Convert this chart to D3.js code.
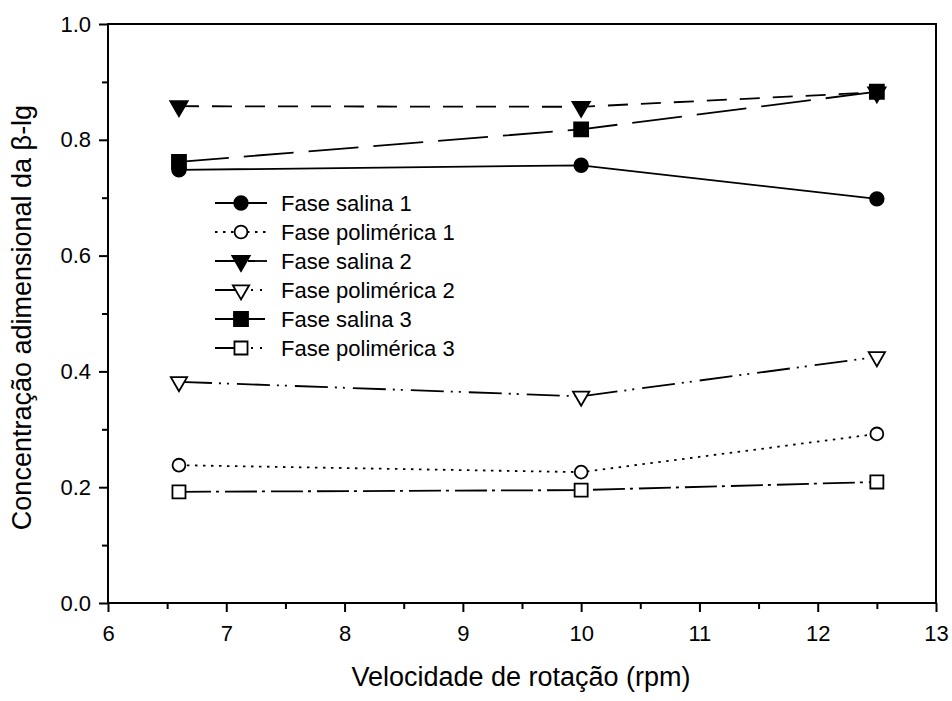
<!DOCTYPE html>
<html>
<head>
<meta charset="utf-8">
<script src="https://cdn.jsdelivr.net/npm/d3@7"></script>
<style>
  html, body { margin: 0; padding: 0; background: #fff; }
  svg { display: block; font-family: Arial, "Liberation Sans", sans-serif; }
</style>
</head>
<body>
<svg id="chart" width="952" height="701"></svg>
<script>
// ---- data ----
const rpm = [6.6, 10, 12.5];
const salina1 = [0.748, 0.756, 0.698];
const polimerica1 = [0.238, 0.226, 0.292];
const salina2 = [0.858, 0.857, 0.882];
const polimerica2 = [0.382, 0.357, 0.425];
const salina3 = [0.762, 0.818, 0.883];
const polimerica3 = [0.192, 0.195, 0.209];
const seriesNames = ["Fase salina 1", "Fase polimérica 1", "Fase salina 2",
                     "Fase polimérica 2", "Fase salina 3", "Fase polimérica 3"];
const xTicks = [6, 7, 8, 9, 10, 11, 12, 13];
const yTicks = [0.0, 0.2, 0.4, 0.6, 0.8, 1.0];
const xTitle = "Velocidade de rotação (rpm)";
const yTitle = "Concentração adimensional da β-lg";

// ---- styling ----
const styles = [
  { sym: d3.symbolCircle, size: 145, fill: "#000", rot: 0, dash: null, legendDash: null },
  { sym: d3.symbolCircle, size: 130, fill: "#fff", rot: 0, dash: "2.5,5.5", legendDash: "2.5,5.5" },
  { sym: d3.symbolTriangle, size: 130, fill: "#000", rot: 180, dash: "20,13", legendDash: "20,13" },
  { sym: d3.symbolTriangle, size: 115, fill: "#fff", rot: 180, dash: "33,7,2,6,2,8", legendDash: "20,16,2,7,2,30" },
  { sym: d3.symbolSquare, size: 196, fill: "#000", rot: 0, dash: "50,15", legendDash: "50,15" },
  { sym: d3.symbolSquare, size: 170, fill: "#fff", rot: 0, dash: "32,5,3,6", legendDash: "20,16,2,7,2,30" }
];
const allSeries = [salina1, polimerica1, salina2, polimerica2, salina3, polimerica3];

const svg = d3.select("#chart");
const L = 108, R = 936, T = 24, B = 603;
const x = d3.scaleLinear().domain([6, 13]).range([L, R]);
const y = d3.scaleLinear().domain([0, 1]).range([B, T]);

// frame
svg.append("rect").attr("x", L).attr("y", T).attr("width", R - L).attr("height", B - T)
  .attr("fill", "none").attr("stroke", "#000").attr("stroke-width", 2);

// minor ticks
const xMinor = d3.range(6.5, 13, 1);
const yMinor = d3.range(0.1, 1.0, 0.2);
svg.append("g").attr("transform", `translate(0,${B})`)
  .call(d3.axisBottom(x).tickValues(xMinor).tickSize(6).tickFormat(""))
  .call(g => g.select(".domain").remove())
  .call(g => g.selectAll("line").attr("stroke-width", 2));
svg.append("g").attr("transform", `translate(${L},0)`)
  .call(d3.axisLeft(y).tickValues(yMinor).tickSize(6).tickFormat(""))
  .call(g => g.select(".domain").remove())
  .call(g => g.selectAll("line").attr("stroke-width", 2));

// major axes
const xAxis = svg.append("g").attr("transform", `translate(0,${B})`)
  .call(d3.axisBottom(x).tickValues(xTicks).tickSize(9).tickPadding(13).tickFormat(d3.format("d")));
xAxis.select(".domain").remove();
xAxis.selectAll("line").attr("stroke-width", 2);
xAxis.selectAll("text").attr("font-size", 22).attr("font-family", "Arial, 'Liberation Sans', sans-serif").attr("fill", "#000");

const yAxis = svg.append("g").attr("transform", `translate(${L},0)`)
  .call(d3.axisLeft(y).tickValues(yTicks).tickSize(9).tickPadding(8).tickFormat(d3.format(".1f")));
yAxis.select(".domain").remove();
yAxis.selectAll("line").attr("stroke-width", 2);
yAxis.selectAll("text").attr("font-size", 22).attr("font-family", "Arial, 'Liberation Sans', sans-serif").attr("fill", "#000");

// titles
svg.append("text").attr("x", (L + R) / 2 - 1).attr("y", 686).attr("text-anchor", "middle")
  .attr("font-size", 27).text(xTitle);
svg.append("text").attr("transform", `translate(31,${(T + B) / 2 + 4}) rotate(-90)`)
  .attr("text-anchor", "middle").attr("font-size", 27).text(yTitle);

// lines
const line = d3.line().x((d, i) => x(rpm[i])).y(d => y(d));
allSeries.forEach((s, k) => {
  svg.append("path").attr("d", line(s)).attr("fill", "none").attr("stroke", "#000")
    .attr("stroke-width", 1.8).attr("stroke-dasharray", styles[k].dash);
});
// markers
allSeries.forEach((s, k) => {
  const st = styles[k];
  svg.append("g").selectAll("path").data(s).join("path")
    .attr("d", d3.symbol().type(st.sym).size(st.size))
    .attr("transform", (d, i) => `translate(${x(rpm[i])},${y(d)}) rotate(${st.rot})`)
    .attr("fill", st.fill).attr("stroke", "#000").attr("stroke-width", 1.8);
});

// legend
const legY0 = 203, legDy = 29, lx0 = 215, lx1 = 267, lm = 241, tx = 281;
seriesNames.forEach((name, k) => {
  const st = styles[k];
  const yy = legY0 + k * legDy;
  svg.append("line").attr("x1", lx0).attr("x2", lx1).attr("y1", yy).attr("y2", yy)
    .attr("stroke", "#000").attr("stroke-width", 1.8).attr("stroke-dasharray", st.legendDash);
  svg.append("path").attr("d", d3.symbol().type(st.sym).size(st.size)())
    .attr("transform", `translate(${lm},${yy}) rotate(${st.rot})`)
    .attr("fill", st.fill).attr("stroke", "#000").attr("stroke-width", 1.8);
  svg.append("text").attr("x", tx).attr("y", yy).attr("dy", "0.35em")
    .attr("font-size", 22).text(name);
});
</script>
</body>
</html>
